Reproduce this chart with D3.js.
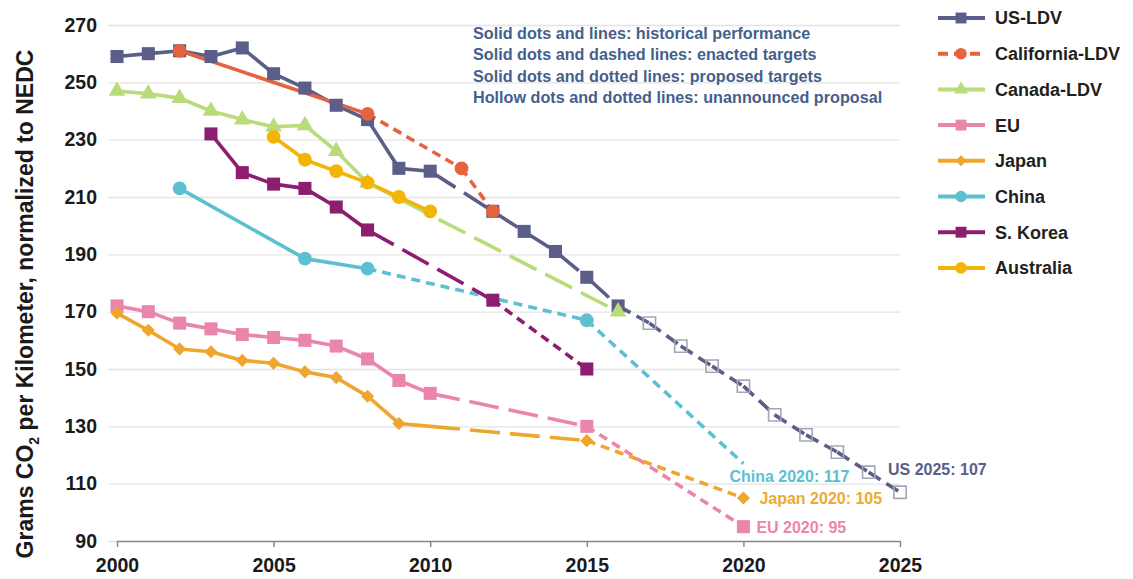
<!DOCTYPE html>
<html>
<head>
<meta charset="utf-8">
<script src="https://cdn.jsdelivr.net/npm/d3@7"></script>
<style>
body { margin: 0; background: #fff; }
text { font-family: "Liberation Sans", Arial, sans-serif; font-weight: bold; }
</style>
</head>
<body>
<script>
// ---- data ----
var usYears = [2000,2001,2002,2003,2004,2005,2006,2007,2008,2009,2010,2012,2013,2014,2015,2016,2017,2018,2019,2020,2021,2022,2023,2024,2025];
var usValues = [259,260,261,259,262,253,248,242,237,220,219,205,198,191,182,172,166,158,151,144,134,127,121,114,107];
var usStatus = ["hist","enacted","hist","hist","hist","hist","hist","hist","hist","hist",
  "enacted","enacted","enacted","enacted","enacted",
  "unannounced","unannounced","unannounced","unannounced","unannounced","unannounced","unannounced","unannounced","unannounced"];

var caYears = [2002,2008,2011,2012];
var caValues = [261,239,220,205];
var caStatus = ["hist","proposed","proposed"];

var cnYears = [2000,2001,2002,2003,2004,2005,2006,2007,2008,2016];
var cnValues = [247,246,244.5,240,237,234.5,235,226,215,170];
var cnStatus = ["hist","hist","hist","hist","hist","hist","hist","hist","enacted"];

var euYears = [2000,2001,2002,2003,2004,2005,2006,2007,2008,2009,2010,2015,2020];
var euValues = [172,170,166,164,162,161,160,158,153.5,146,141.5,130,95];
var euStatus = ["hist","hist","hist","hist","hist","hist","hist","hist","hist","hist","enacted","proposed"];

var jpYears = [2000,2001,2002,2003,2004,2005,2006,2007,2008,2009,2010,2015,2020];
var jpValues = [169.5,163.5,157,156,153,152,149,147,140.5,131,130,125,105];
var jpStatus = ["hist","hist","hist","hist","hist","hist","hist","hist","hist","hist","enacted","proposed"];
var jpUnmarked = [2010];

var chYears = [2002,2006,2008,2015,2020];
var chValues = [213,188.5,185,167,117];
var chStatus = ["hist","hist","proposed","proposed"];
var chUnmarked = [2020];

var krYears = [2003,2004,2005,2006,2007,2008,2012,2015];
var krValues = [232,218.5,214.5,213,206.5,198.5,174,150];
var krStatus = ["hist","hist","hist","hist","hist","enacted","proposed"];

var auYears = [2005,2006,2007,2008,2009,2010];
var auValues = [231,223,219,215,210,205];
var auStatus = ["hist","hist","hist","hist","hist"];

var yTicks = [90,110,130,150,170,190,210,230,250,270];
var xTicks = [2000,2005,2010,2015,2020,2025];

var notes = [
  "Solid dots and lines: historical performance",
  "Solid dots and dashed lines: enacted targets",
  "Solid dots and dotted lines: proposed targets",
  "Hollow dots and dotted lines: unannounced proposal"
];

var series = [
  { name: "US-LDV", years: usYears, values: usValues, status: usStatus, unmarked: [], color: "#5a5e88", shape: d3.symbolSquare, size: 170 },
  { name: "California-LDV", years: caYears, values: caValues, status: caStatus, unmarked: [], color: "#e5633f", shape: d3.symbolCircle, size: 150 },
  { name: "Canada-LDV", years: cnYears, values: cnValues, status: cnStatus, unmarked: [], color: "#b9dc7a", shape: d3.symbolTriangle, size: 120 },
  { name: "EU", years: euYears, values: euValues, status: euStatus, unmarked: [], color: "#ea86ad", shape: d3.symbolSquare, size: 170 },
  { name: "Japan", years: jpYears, values: jpValues, status: jpStatus, unmarked: jpUnmarked, color: "#eea62e", shape: d3.symbolDiamond2, size: 110 },
  { name: "China", years: chYears, values: chValues, status: chStatus, unmarked: chUnmarked, color: "#5cc0d0", shape: d3.symbolCircle, size: 150 },
  { name: "S. Korea", years: krYears, values: krValues, status: krStatus, unmarked: [], color: "#8c1d6f", shape: d3.symbolSquare, size: 170 },
  { name: "Australia", years: auYears, values: auValues, status: auStatus, unmarked: [], color: "#f3b406", shape: d3.symbolCircle, size: 150 }
];

var endLabels = [
  { text: "China 2020: 117", x: 2020, y: 117, color: "#5cc0d0", dx: -14, dy: 18 },
  { text: "Japan 2020: 105", x: 2020, y: 105, color: "#eeaa30", dx: 16, dy: 6 },
  { text: "EU 2020: 95", x: 2020, y: 95, color: "#ea86ad", dx: 13, dy: 6 },
  { text: "US 2025: 107", x: 2025, y: 107, color: "#5a5e88", dx: -12, dy: -17 }
];

var dashFor = { hist: null, enacted: "30,10", proposed: "9,6", unannounced: "14,7" };

// ---- layout ----
var width = 1133, height = 579;
var svg = d3.select("body").append("svg")
    .attr("width", width)
    .attr("height", height);

var x = d3.scaleLinear().domain([2000, 2025]).range([117, 900]);
var y = d3.scaleLinear().domain([90, 270]).range([541, 25]);

// gridlines + y labels
var yAxis = svg.append("g")
    .attr("transform", "translate(108,0)")
    .call(d3.axisLeft(y).tickValues(yTicks).tickSize(-792).tickPadding(11));
yAxis.select(".domain").remove();
yAxis.selectAll(".tick line").attr("stroke", "#e4e4e4").attr("stroke-width", 1.3);
yAxis.selectAll(".tick text")
    .style("font-size", "19.5px")
    .attr("fill", "#1a1a1a");

// bottom axis
var xAxis = svg.append("g")
    .attr("transform", "translate(0,541)")
    .call(d3.axisBottom(x).tickValues(xTicks).tickFormat(d3.format("d")).tickSize(6).tickPadding(11).tickSizeOuter(0));
xAxis.select(".domain").attr("stroke", "#8a8a8a").attr("stroke-width", 1.5);
xAxis.selectAll(".tick line").attr("stroke", "#8a8a8a").attr("stroke-width", 1.5);
xAxis.selectAll(".tick text")
    .style("font-size", "19.5px")
    .attr("fill", "#1a1a1a");

// y title
var yTitle = svg.append("text")
    .attr("transform", "translate(33,304) rotate(-90)")
    .attr("text-anchor", "middle")
    .style("font-size", "23px")
    .attr("fill", "#1a1a1a");
yTitle.append("tspan").text("Grams CO");
yTitle.append("tspan").text("2").style("font-size", "14px").attr("dy", 6);
yTitle.append("tspan").text(" per Kilometer, normalized to NEDC").attr("dy", -6);

// lines, drawn segment by segment so each status gets its own dash
var line = d3.line().x(function (d) { return x(d[0]); }).y(function (d) { return y(d[1]); });

series.forEach(function (s) {
    var g = svg.append("g").attr("class", "series");
    for (var i = 0; i < s.status.length; i++) {
        g.append("path")
            .attr("d", line([[s.years[i], s.values[i]], [s.years[i + 1], s.values[i + 1]]]))
            .attr("fill", "none")
            .attr("stroke", s.color)
            .attr("stroke-width", 3.6)
            .attr("stroke-dasharray", dashFor[s.status[i]]);
    }
});

// markers
series.forEach(function (s) {
    var pts = s.years.map(function (yr, i) {
        return { year: yr, value: s.values[i], hollow: i > 0 && s.status[i - 1] === "unannounced" };
    }).filter(function (p) { return s.unmarked.indexOf(p.year) < 0; });

    svg.append("g").selectAll("path")
        .data(pts)
        .enter().append("path")
        .attr("transform", function (d) { return "translate(" + x(d.year) + "," + y(d.value) + ")"; })
        .attr("d", function (d) { return d3.symbol().type(s.shape).size(d.hollow ? 150 : s.size)(); })
        .attr("fill", function (d) { return d.hollow ? "none" : s.color; })
        .attr("stroke", function (d) { return d.hollow ? "#a4a6b6" : "none"; })
        .attr("stroke-width", 1.6);
});

// end-point labels
svg.append("g").selectAll("text")
    .data(endLabels)
    .enter().append("text")
    .attr("x", function (d) { return x(d.x) + d.dx; })
    .attr("y", function (d) { return y(d.y) + d.dy; })
    .attr("fill", function (d) { return d.color; })
    .style("font-size", "16px")
    .text(function (d) { return d.text; });

// notes
svg.append("g").selectAll("text")
    .data(notes)
    .enter().append("text")
    .attr("x", 473)
    .attr("y", function (d, i) { return 39 + i * 21.3; })
    .attr("fill", "#445f8d")
    .style("font-size", "16.2px")
    .text(function (d) { return d; });

// legend
var legend = svg.append("g").attr("transform", "translate(938,18)");
var rows = legend.selectAll("g")
    .data(series)
    .enter().append("g")
    .attr("transform", function (d, i) { return "translate(0," + (i * 35.7) + ")"; });
rows.append("line")
    .attr("x1", 0).attr("x2", 47)
    .attr("stroke", function (d) { return d.color; })
    .attr("stroke-width", 4)
    .attr("stroke-dasharray", function (d) { return d.name === "California-LDV" ? "10,6" : null; });
rows.append("path")
    .attr("transform", "translate(23,0)")
    .attr("d", function (d) { return d3.symbol().type(d.shape).size(d.size * 0.7)(); })
    .attr("fill", function (d) { return d.color; });
rows.append("text")
    .attr("x", 57)
    .attr("dy", "0.36em")
    .attr("fill", "#231f20")
    .style("font-size", "18px")
    .text(function (d) { return d.name; });
</script>
</body>
</html>
